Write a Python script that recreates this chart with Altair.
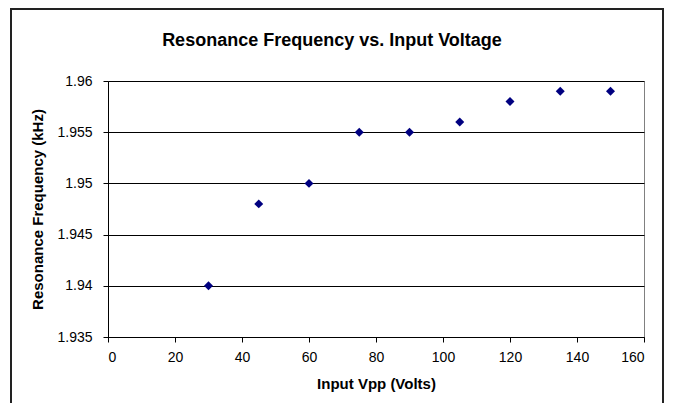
import altair as alt
import pandas as pd

voltage = [30, 45, 60, 75, 90, 105, 120, 135, 150]
frequency = [1.940, 1.948, 1.950, 1.955, 1.955, 1.956, 1.958, 1.959, 1.959]
x_ticks = [0, 20, 40, 60, 80, 100, 120, 140, 160]
y_ticks = [1.935, 1.94, 1.945, 1.95, 1.955, 1.96]
chart_title = ["Resonance Frequency vs. Input Voltage"]

df = pd.DataFrame({"v": voltage, "f": frequency})
FONT = "Liberation Sans"

points = alt.Chart(df).mark_point(
    shape="diamond", filled=True, color="#000080", size=80, opacity=1
).encode(
    x=alt.X("v:Q", scale=alt.Scale(domain=[0, 160], nice=False),
            axis=alt.Axis(values=x_ticks, title="Input Vpp (Volts)", grid=False,
                          tickSize=5, labelPadding=8, titlePadding=12)),
    y=alt.Y("f:Q", scale=alt.Scale(domain=[1.935, 1.96], nice=False, zero=False),
            axis=alt.Axis(values=y_ticks, format="~g", title="Resonance Frequency (kHz)",
                          grid=True, gridColor="#000000", gridWidth=1,
                          tickSize=5, labelPadding=11, titlePadding=11)),
)

border = alt.Chart(pd.DataFrame({"a": [0]})).mark_rect(
    fill=None, stroke="#222222", strokeWidth=2
).encode(
    x=alt.value(-97), x2=alt.value(555), y=alt.value(-72), y2=alt.value(340)
)

title = alt.Chart(pd.DataFrame({"t": chart_title})).mark_text(
    font=FONT, fontSize=18, fontWeight="bold", color="#000000",
    align="center", baseline="alphabetic"
).encode(
    text="t:N", x=alt.value(224), y=alt.value(-35)
)

chart = alt.layer(border, points, title).properties(
    width=536, height=256,
    background="white",
    autosize=alt.AutoSizeParams(type="none"),
    padding={"left": 100, "top": 73, "right": 21, "bottom": 66},
).configure_view(
    stroke="#808080", strokeWidth=1
).configure_axis(
    labelFont=FONT, titleFont=FONT, labelFontSize=14, titleFontSize=15,
    titleFontWeight="bold", labelColor="#000000", titleColor="#000000",
    domainColor="#000000", tickColor="#000000", domainWidth=1,
)

chart.save("out.html", embed_options={"renderer": "svg", "actions": False})
